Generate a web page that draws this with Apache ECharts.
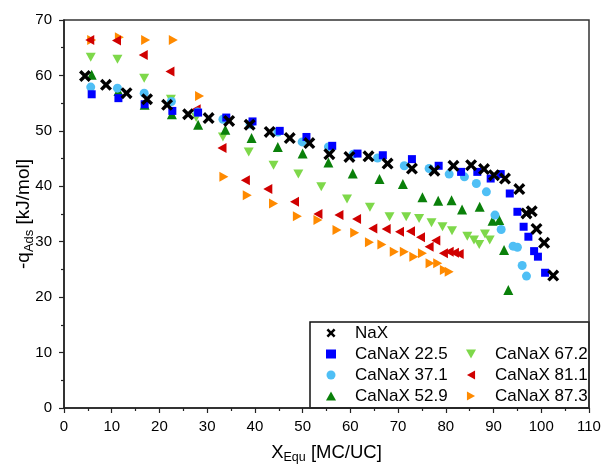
<!DOCTYPE html>
<html><head><meta charset="utf-8">
<script src="https://cdn.jsdelivr.net/npm/echarts@6/dist/echarts.min.js"></script>
<style>html,body{margin:0;padding:0;background:#fff}#c{width:604px;height:465px}</style>
</head><body><div id="c"></div>
<script>
// ---- data ----
const xTicks = [0,10,20,30,40,50,60,70,80,90,100,110];
const yTicks = [0,10,20,30,40,50,60,70];
const seriesNames = ["NaX","CaNaX 22.5","CaNaX 37.1","CaNaX 52.9","CaNaX 67.2","CaNaX 81.1","CaNaX 87.3"];

const naxX = [4.4,8.8,13.1,17.4,21.6,26.0,30.3,34.6,38.9,43.1,47.3,51.4,55.6,59.8,63.8,67.8,72.9,77.6,81.6,85.3,88.0,90.1,92.4,95.4,96.9,98.0,99.0,100.6,102.5];
const naxY = [59.9,58.3,56.8,55.7,54.7,53.0,52.3,51.8,51.1,49.8,48.7,47.8,45.8,45.3,45.4,44.1,43.2,42.8,43.7,43.8,43.1,42.0,41.4,39.5,35.1,35.5,32.3,29.8,23.9];

const ca225X = [5.8,11.4,16.9,22.7,28.1,34.0,39.5,45.2,50.8,56.2,61.5,66.8,72.9,78.5,83.2,86.6,89.4,91.5,93.4,95.0,96.3,97.3,98.5,99.3,100.8];
const ca225Y = [56.6,55.9,54.8,53.6,53.3,52.4,51.7,50.0,48.9,47.3,45.9,45.6,44.9,43.7,42.6,42.6,41.4,42.2,38.7,35.4,32.7,30.9,28.3,27.3,24.4];

const ca371X = [5.6,11.2,16.8,22.5,28.0,33.3,39.0,44.8,49.9,55.4,60.6,65.7,71.3,76.5,80.7,83.9,86.4,88.5,90.3,91.6,94.1,95.0,96.0,96.9];
const ca371Y = [57.9,57.7,56.8,55.3,53.4,52.1,51.2,49.8,48.0,47.1,45.8,45.1,43.7,43.2,42.2,41.7,40.5,39.0,34.8,32.2,29.2,29.0,25.7,23.8];

const ca529X = [5.8,11.4,16.9,22.6,28.1,33.8,39.3,44.8,50.0,55.4,60.5,66.1,71.0,75.1,78.4,81.2,83.4,87.1,89.8,91.2,92.2,93.1];
const ca529Y = [60.1,57.2,54.7,53.0,51.1,50.2,48.7,47.1,45.9,44.3,42.3,41.3,40.4,38.0,37.4,37.5,35.8,36.3,33.8,33.9,28.5,21.3];

const ca672X = [5.6,11.2,16.8,22.4,27.7,33.3,38.7,43.9,49.1,53.9,59.3,64.1,68.2,71.7,74.4,77.0,79.3,81.3,84.5,85.9,87.0,88.2,89.2];
const ca672Y = [63.3,62.9,59.5,55.7,52.4,48.9,46.2,43.8,42.2,39.9,37.7,36.2,34.5,34.5,34.2,33.4,32.7,32.0,31.0,30.3,29.5,31.4,30.3];

const ca811X = [5.4,11.0,16.6,22.2,27.7,33.1,38.0,42.7,48.3,53.2,57.6,61.3,64.7,67.5,70.3,72.6,74.7,76.5,77.9,79.5,80.7,81.8,82.8];
const ca811Y = [66.4,66.3,63.7,60.7,53.9,46.9,41.1,39.5,37.2,35.0,34.8,34.1,32.4,32.3,31.8,31.9,30.8,29.1,30.2,27.9,28.2,28.0,27.8];

const ca873X = [5.8,11.6,17.1,22.9,28.4,33.5,38.4,43.9,48.9,53.2,57.2,60.9,64.0,66.6,69.2,71.3,73.3,75.1,76.7,78.3,79.7,80.7];
const ca873Y = [66.4,66.9,66.4,66.4,56.3,41.7,38.4,36.9,34.6,33.9,32.1,31.6,29.9,29.5,28.2,28.2,27.3,27.9,26.1,26.1,24.9,24.6];

// ---- build ----
const FONT = '"Liberation Sans", Arial, sans-serif';
const crossPath = 'path://M2,0 L5,3 L8,0 L10,2 L7,5 L10,8 L8,10 L5,7 L2,10 L0,8 L3,5 L0,2 Z';
function pts(xs, ys){ return xs.map((x,i)=>[x, ys[i]]); }
const defs = [
  {x:naxX, y:naxY, color:'#000000', symbol:crossPath, size:12},
  {x:ca225X, y:ca225Y, color:'#0000ff', symbol:'rect', size:8},
  {x:ca371X, y:ca371Y, color:'#4fbff5', symbol:'circle', size:9},
  {x:ca529X, y:ca529Y, color:'#0a800a', symbol:'triangle', size:10},
  {x:ca672X, y:ca672Y, color:'#7ed84a', symbol:'path://M0,0 L10,0 L5,9 Z', size:[10,9]},
  {x:ca811X, y:ca811Y, color:'#d00000', symbol:'path://M9,0 L9,10 L0,5 Z', size:[9,10]},
  {x:ca873X, y:ca873Y, color:'#ff8a00', symbol:'path://M0,0 L0,10 L9,5 Z', size:[9,10]}
];
const series = defs.map((d,i)=>({
  name: seriesNames[i], type:'scatter', data: pts(d.x,d.y),
  symbol: d.symbol, symbolSize: d.size, itemStyle:{color:d.color, opacity:1},
  z: 10 - i
}));

const chart = echarts.init(document.getElementById('c'), null, {renderer:'canvas'});
const legendCommon = {
  orient:'vertical', padding:0, itemWidth:10, itemHeight:9, itemGap:4,
  textStyle:{fontFamily:FONT, fontSize:17, color:'#000', lineHeight:17, padding:[0,0,0,14]},
  selectedMode:false
};
chart.setOption({
  animation:false,
  backgroundColor:'#fff',
  textStyle:{fontFamily:FONT},
  grid:{left:64, top:20, right:15, bottom:57, containLabel:false, outerBoundsMode:'none', show:true, borderColor:'#333', borderWidth:1.5, backgroundColor:'transparent'},
  xAxis:{
    type:'value', min:xTicks[0], max:xTicks[xTicks.length-1], interval:10,
    axisLine:{show:true, onZero:false, lineStyle:{color:'#222', width:1.5}},
    axisTick:{show:true, inside:false, length:5, lineStyle:{color:'#222', width:1.2}},
    minorTick:{show:true, splitNumber:2, length:3, lineStyle:{color:'#222', width:1.2}},
    splitLine:{show:false},
    axisLabel:{fontFamily:FONT, fontSize:15, color:'#000', margin:11},
    name:'{a|X}{s|Equ}{a| [MC/UC]}', nameLocation:'middle', nameGap:33, nameMoveOverlap:false,
    nameTextStyle:{rich:{a:{fontFamily:FONT, fontSize:18.5, color:'#000'}, s:{fontFamily:FONT, fontSize:12.5, color:'#000', padding:[10,0,0,0]}}}
  },
  yAxis:{
    type:'value', min:yTicks[0], max:yTicks[yTicks.length-1], interval:10,
    axisLine:{show:true, onZero:false, lineStyle:{color:'#222', width:1.5}},
    axisTick:{show:true, inside:false, length:5, lineStyle:{color:'#222', width:1.2}},
    minorTick:{show:true, splitNumber:2, length:3, lineStyle:{color:'#222', width:1.2}},
    splitLine:{show:false},
    axisLabel:{fontFamily:FONT, fontSize:15, color:'#000', margin:12},
    name:'{a|-q}{s|Ads}{a| [kJ/mol]}', nameLocation:'middle', nameGap:28, nameRotate:90, nameMoveOverlap:false,
    nameTextStyle:{rich:{a:{fontFamily:FONT, fontSize:19, color:'#000'}, s:{fontFamily:FONT, fontSize:13, color:'#000', padding:[11,0,0,0]}}}
  },
  legend:[
    Object.assign({}, legendCommon, {left:326, top:324.5, data:seriesNames.slice(0,4)}),
    Object.assign({}, legendCommon, {left:466, top:345.5, data:seriesNames.slice(4)})
  ],
  graphic:[{type:'rect', shape:{x:310, y:322, width:279, height:86}, style:{fill:'#fff', stroke:'#111', lineWidth:1.5}, z:-1, silent:true}],
  series: series
});
</script></body></html>
